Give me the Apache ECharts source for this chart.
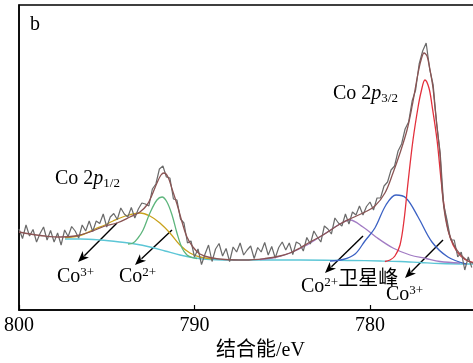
<!DOCTYPE html>
<html>
<head>
<meta charset="utf-8">
<script src="https://cdn.jsdelivr.net/npm/echarts@6/dist/echarts.min.js"></script>
<style>
  html, body { margin: 0; padding: 0; background: #fff; }
  #chart { width: 473px; height: 363px; }
</style>
</head>
<body>
<div id="chart"></div>
<script>
// raw spectrum, binding energy (eV) and counts (arbitrary units)
const rawEnergy = [
  800.0, 799.8, 799.6, 799.4, 799.2, 799.0, 798.8, 798.6, 798.4, 798.2,
  798.0, 797.8, 797.6, 797.4, 797.2, 797.0, 796.8, 796.6, 796.4, 796.2,
  796.0, 795.8, 795.6, 795.4, 795.2, 795.0, 794.8, 794.6, 794.4, 794.2,
  794.0, 793.8, 793.6, 793.4, 793.2, 793.0, 792.8, 792.6, 792.4, 792.2,
  792.0, 791.8, 791.6, 791.4, 791.2, 791.0, 790.8, 790.6, 790.4, 790.2,
  790.0, 789.8, 789.6, 789.4, 789.2, 789.0, 788.8, 788.6, 788.4, 788.2,
  788.0, 787.8, 787.6, 787.4, 787.2, 787.0, 786.8, 786.6, 786.4, 786.2,
  786.0, 785.8, 785.6, 785.4, 785.2, 785.0, 784.8, 784.6, 784.4, 784.2,
  784.0, 783.8, 783.6, 783.4, 783.2, 783.0, 782.8, 782.6, 782.4, 782.2,
  782.0, 781.8, 781.6, 781.4, 781.2, 781.0, 780.8, 780.6, 780.4, 780.2,
  780.0, 779.8, 779.6, 779.4, 779.2, 779.0, 778.8, 778.6, 778.4, 778.2,
  778.0, 777.8, 777.6, 777.4, 777.2, 777.0, 776.8, 776.6, 776.4, 776.2,
  776.0, 775.8, 775.6, 775.4, 775.2, 775.0, 774.8, 774.6, 774.4, 774.2
];
const rawCounts = [
  81, 71.5, 85, 74, 80.5, 68, 76.5, 83, 70, 79.5,
  68, 77, 65, 80, 73.5, 83.5, 79, 72, 85, 79,
  89, 78.5, 89, 86.5, 96, 83, 93, 96.5, 90.5, 102,
  96, 93, 102.5, 92, 101, 107, 106, 104, 121, 126,
  141, 144, 133, 132, 111, 110, 91, 87, 67, 69,
  53, 61, 45.5, 56, 65, 48.5, 61, 66.5, 54, 61.5,
  48.5, 63, 58, 67, 55, 60, 64, 51.5, 62.5, 58,
  67.5, 55, 63.5, 52, 62.5, 68, 60, 67, 55.5, 68,
  66, 59, 72.5, 66, 79, 73, 68, 84, 81, 76,
  92, 87, 84, 96, 86, 98, 95, 104, 95, 103.5,
  108, 100, 112, 112, 124, 128, 140, 144, 159, 166,
  181, 188, 209, 220, 246, 259, 267, 241, 225, 186,
  157, 105, 89, 70, 70, 53, 58, 40, 53, 42.5
];

// fitted envelope
const envelopeEnergy = [
  800.00, 799.37, 798.52, 797.66, 796.81, 795.95, 795.10, 794.42, 793.68, 793.11,
  792.71, 792.42, 792.14, 791.91, 791.74, 791.51, 791.28, 791.00, 790.71, 790.43,
  790.09, 789.69, 789.12, 788.26, 787.12, 785.98, 785.13, 784.56, 783.99, 783.42,
  782.68, 781.71, 781.03, 780.28, 779.72, 779.15, 778.69, 778.29, 777.89, 777.61,
  777.26, 777.09, 776.92, 776.75, 776.58, 776.41, 776.30, 776.13, 776.01, 775.84,
  775.56, 775.16, 774.76, 774.42, 774.13
];
const envelope = [
  78, 76, 74, 73, 74, 78, 84, 87, 93, 98,
  105, 115, 127, 135, 137, 133, 121, 106, 88, 73,
  63, 56, 52.5, 50.5, 50, 51.5, 54, 57, 62, 68,
  75, 86, 92, 98, 104, 117, 137, 157, 180, 203,
  237, 250, 257, 254, 240, 222, 203, 175, 155, 110,
  80, 63, 54, 49, 47
];

// Shirley-type background
const bgEnergy = [797.38, 796.52, 795.38, 794.25, 793.39, 792.54, 791.68, 790.83, 789.97, 789.12,
  787.41, 783.99, 781.14, 779.43, 778.29, 777.15, 776.01, 774.13];
const background = [71, 71, 70, 68, 66, 63, 59, 55, 52, 50.5,
  50, 50, 49.5, 49, 48.5, 47.5, 46.5, 46];

// Co 2p3/2 components
const co3p32Energy = [779.15, 778.86, 778.58, 778.29, 778.06, 777.83, 777.55, 777.26, 777.09, 776.87,
  776.64, 776.47, 776.18, 775.95, 775.73, 775.44, 775.04, 774.59, 774.13];
const co3p32 = [48.5, 50, 54, 65, 90, 128, 170, 203, 218, 230,
  222, 205, 170, 130, 98, 73, 58, 50.5, 47.5];

const co2p32Energy = [782.28, 781.54, 780.85, 780.29, 779.72, 779.09, 778.52, 777.95, 777.26, 776.47,
  775.56, 774.53];
const co2p32 = [49, 50.5, 56, 69, 82, 105, 115, 112, 93, 68, 53, 46];

const satEnergy = [786.27, 785.41, 784.56, 783.59, 782.68, 781.71, 781.14, 780.40, 779.66, 778.69,
  777.72, 776.81, 776.01, 774.87];
const satellite = [50.5, 52.5, 57, 65, 75, 86, 90, 83, 73, 62, 55, 51.5, 48.5, 47];

// Co 2p1/2 components
const co3p12Energy = [793.79, 793.50, 793.22, 792.93, 792.54, 792.14, 791.85, 791.57, 791.28, 791.00,
  790.71, 790.43, 790.14, 789.86];
const co3p12 = [66, 67, 72, 80, 97, 110, 113, 108, 95, 77, 62, 55, 52.5, 51.5];

const co2p12Energy = [797.38, 796.52, 795.67, 795.10, 794.64, 793.85, 793.11, 792.54, 791.97, 791.40,
  790.83, 790.26, 789.69, 788.95];
const co2p12 = [72.5, 74.5, 81, 85, 89, 94.5, 97, 94, 87, 77, 65, 57, 53, 51];

const tickValues = [800, 790, 780];

const zip = (xs, ys) => xs.map((x, i) => [x, ys[i]]);

const serif = '"Liberation Serif", "Times New Roman", "Noto Sans CJK SC", serif';

function arrow(x1, y1, x2, y2) {
  const len = 11, half = 4.5;
  const dx = x2 - x1, dy = y2 - y1;
  const d = Math.sqrt(dx * dx + dy * dy);
  const ux = dx / d, uy = dy / d;
  const bx = x2 - ux * len, by = y2 - uy * len;
  return {
    type: 'group',
    children: [
      { type: 'line', shape: { x1: x1, y1: y1, x2: bx + ux * 2, y2: by + uy * 2 },
        style: { stroke: '#000', lineWidth: 1.4 } },
      { type: 'polygon',
        shape: { points: [[x2, y2], [bx - uy * half, by + ux * half], [bx + ux * 3, by + uy * 3], [bx + uy * half, by - ux * half]] },
        style: { fill: '#000' } }
    ]
  };
}

function label(x, y, text) {
  return {
    type: 'text', x: x, y: y,
    style: {
      text: text,
      verticalAlign: 'middle',
      rich: {
        n: { fontFamily: serif, fontSize: 20, lineHeight: 22, color: '#000', verticalAlign: 'middle' },
        i: { fontFamily: serif, fontSize: 20, fontStyle: 'italic', lineHeight: 22, color: '#000', verticalAlign: 'middle' },
        sub: { fontFamily: serif, fontSize: 13, lineHeight: 13, color: '#000', verticalAlign: 'bottom' },
        sup: { fontFamily: serif, fontSize: 13, lineHeight: 13, color: '#000', verticalAlign: 'top' },
        cn: { fontFamily: serif, fontSize: 20, lineHeight: 22, color: '#000', verticalAlign: 'top', padding: [-6, 0, 0, 0] }
      }
    }
  };
}

const chart = echarts.init(document.getElementById('chart'), null, { renderer: 'canvas' });

const line = (name, data, color, width, z) => ({
  name: name,
  type: 'line',
  data: data,
  smooth: 0.35,
  symbol: 'none',
  lineStyle: { color: color, width: width },
  z: z,
  animation: false
});

chart.setOption({
  animation: false,
  grid: {
    left: 19, top: 5, right: -3, bottom: 53,
    outerBoundsMode: 'none',
    containLabel: false,
    show: true, borderColor: '#000', borderWidth: 1.5
  },
  xAxis: {
    type: 'value',
    inverse: true,
    min: 773.96,
    max: 800,
    name: '结合能/eV',
    nameLocation: 'middle',
    nameGap: 31,
    nameTextStyle: { fontFamily: serif, fontSize: 20, color: '#000', padding: [0, 0, 0, 26] },
    axisLine: { lineStyle: { color: '#000', width: 1.5 } },
    axisTick: { inside: true, length: 5, customValues: tickValues, lineStyle: { color: '#000', width: 1.2 } },
    axisLabel: { customValues: tickValues, fontFamily: serif, fontSize: 20, color: '#000', margin: 6 },
    splitLine: { show: false }
  },
  yAxis: {
    type: 'value',
    min: 0,
    max: 305,
    axisLine: { show: true, lineStyle: { color: '#000', width: 1.5 } },
    axisTick: { show: false },
    axisLabel: { show: false },
    splitLine: { show: false }
  },
  series: [
    line('background', zip(bgEnergy, background), '#5cc6d6', 1.3, 2),
    line('Co2+ 2p1/2', zip(co2p12Energy, co2p12), '#c9a21c', 1.3, 3),
    line('Co3+ 2p1/2', zip(co3p12Energy, co3p12), '#5db57c', 1.3, 3),
    line('satellite', zip(satEnergy, satellite), '#a27cc4', 1.3, 3),
    line('Co2+ 2p3/2', zip(co2p32Energy, co2p32), '#3c62c4', 1.3, 3),
    line('Co3+ 2p3/2', zip(co3p32Energy, co3p32), '#e3303c', 1.3, 3),
    {
      name: 'raw',
      type: 'line',
      data: zip(rawEnergy, rawCounts),
      symbol: 'none',
      lineStyle: { color: '#6a6a6a', width: 1.2 },
      z: 4
    },
    line('envelope', zip(envelopeEnergy, envelope), '#8a5454', 1.3, 5)
  ],
  graphic: [
    { type: 'text', x: 30, y: 25, style: { text: 'b', fontFamily: serif, fontSize: 20, fill: '#000', verticalAlign: 'middle' } },
    label(333, 94, '{n|Co 2}{i|p}{sub|3/2}'),
    label(55, 179, '{n|Co 2}{i|p}{sub|1/2}'),
    label(57, 277, '{n|Co}{sup|3+}'),
    label(119, 277, '{n|Co}{sup|2+}'),
    label(301, 287, '{n|Co}{sup|2+}{cn|卫星峰}'),
    label(386, 295, '{n|Co}{sup|3+}'),
    arrow(117, 223, 78, 262),
    arrow(172, 230, 135, 265),
    arrow(363, 236, 325, 273),
    arrow(443, 240, 405, 278)
  ]
});
</script>
</body>
</html>
